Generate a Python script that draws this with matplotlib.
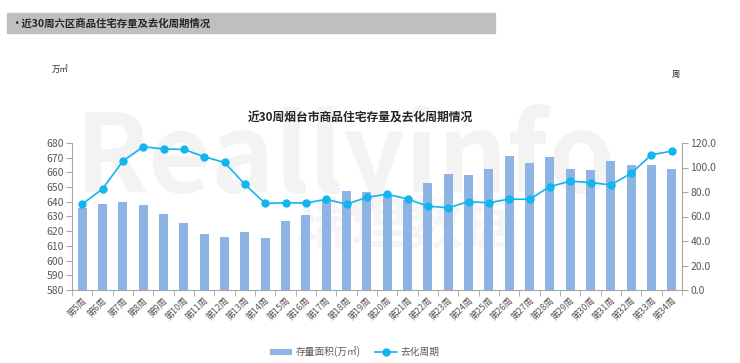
import matplotlib.pyplot as plt
from matplotlib.patches import Rectangle

plt.rcParams['font.family'] = ['Noto Sans CJK SC', 'DejaVu Sans']

weeks = ["第%d周" % i for i in range(5, 35)]
stock = [635.7, 638.4, 639.8, 637.8, 631.8, 625.9, 618.1, 616.1, 619.5, 615.6,
         626.8, 631.1, 641.2, 647.4, 646.7, 644.8, 641.0, 652.6, 659.2, 657.9,
         662.4, 670.9, 666.3, 670.2, 662.4, 661.7, 667.7, 665.2, 665.2, 662.4]
cycle = [70.1, 82.5, 105.2, 117.0, 115.1, 114.8, 108.8, 104.1, 86.3, 70.7,
         71.2, 71.0, 74.0, 70.1, 75.6, 78.3, 74.2, 68.5, 67.1, 72.1,
         71.2, 74.2, 74.0, 84.4, 88.8, 87.7, 85.8, 95.3, 110.4, 113.4]

bar_color = "#8EB4E3"
line_color = "#12B5EE"
grey = "#595959"

fig = plt.figure(figsize=(7.4, 3.63), dpi=100)

# header band
fig.patches.append(Rectangle((7 / 740, 1 - 33 / 363), 488 / 740, 20 / 363,
                             transform=fig.transFigure, color="#bfbfbf", zorder=0))
fig.text(11 / 740, 1 - 23 / 363, "•近30周六区商品住宅存量及去化周期情况",
         fontsize=7.5, fontweight="bold", color="#262626", va="center")

ax = fig.add_axes([72 / 740, 1 - 290 / 363, 610 / 740, 147 / 363])
ax.patch.set_alpha(0)

# faint watermark, kept behind the bars
ax.text(0.10, 0.47, "Reallyinfo", transform=fig.transFigure, fontsize=78,
        color="#f3f3f3", fontweight="bold", zorder=0, clip_on=False)
ax.text(0.40, 0.33, "瑞理数据", transform=fig.transFigure, fontsize=40,
        color="#f5f5f5", fontweight="bold", zorder=0, clip_on=False)

x = list(range(len(weeks)))
ax.bar(x, [v - 580 for v in stock], bottom=580, width=0.45, color=bar_color,
       zorder=2, label="存量面积(万㎡)")
ax.set_ylim(580, 680)
ax.set_yticks(range(580, 681, 10))
ax.set_xlim(-0.5, len(weeks) - 0.5)
ax.set_xticks(x)
ax.set_xticklabels(weeks, rotation=45, ha="right", rotation_mode="anchor",
                   fontsize=6.5, color=grey)
ax.set_xticks([i - 0.5 for i in range(len(weeks) + 1)], minor=True)
ax.tick_params(axis="x", which="major", length=0, pad=4)
ax.tick_params(axis="x", which="minor", length=4, color="#a6a6a6")
ax.tick_params(axis="y", labelsize=7.5, labelcolor=grey, length=4, color="#a6a6a6", pad=2)
for s in ["top", "right"]:
    ax.spines[s].set_visible(False)
for s in ["left", "bottom"]:
    ax.spines[s].set_color("#a6a6a6")

ax2 = ax.twinx()
ax2.plot(x, cycle, color=line_color, marker="o", markersize=5, linewidth=1.2,
         zorder=3, label="去化周期")
ax2.set_ylim(0, 120)
ax2.set_yticks(range(0, 121, 20))
ax2.set_yticklabels(["%.1f" % v for v in range(0, 121, 20)])
ax2.tick_params(axis="y", labelsize=7.5, labelcolor=grey, length=4, color="#a6a6a6", pad=2)
for s in ["top", "left", "bottom"]:
    ax2.spines[s].set_visible(False)
ax2.spines["right"].set_color("#a6a6a6")

fig.text(360 / 740, 1 - 118 / 363, "近30周烟台市商品住宅存量及去化周期情况",
         fontsize=8.5, fontweight="bold", color="#262626", ha="center", va="center")
fig.text(52 / 740, 1 - 69 / 363, "万㎡", fontsize=6, color="#262626", va="center")
fig.text(672 / 740, 1 - 74 / 363, "周", fontsize=6, color="#262626", va="center")

h1, l1 = ax.get_legend_handles_labels()
h2, l2 = ax2.get_legend_handles_labels()
fig.legend(h1 + h2, l1 + l2, loc="center", bbox_to_anchor=(355 / 740, 1 - 352 / 363),
           ncol=2, frameon=False, fontsize=7, labelcolor=grey,
           handlelength=2.2, columnspacing=1.5, handletextpad=0.4)

fig.savefig("out.png", dpi=100)
